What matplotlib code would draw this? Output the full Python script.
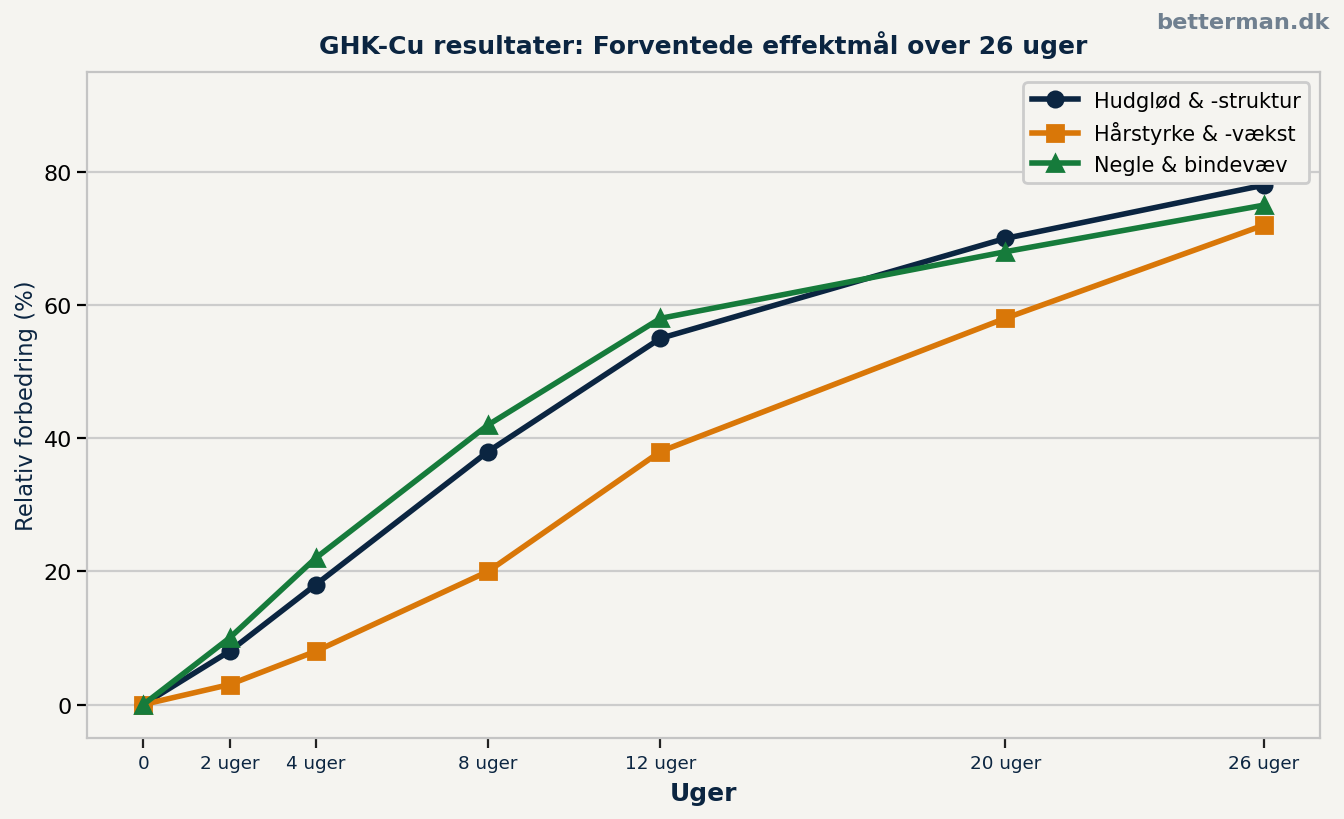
import matplotlib
matplotlib.use('Agg')
import matplotlib.pyplot as plt

BG = '#f5f4f0'
NAVY = '#0b2541'
ORANGE = '#d97708'
GREEN = '#167b3b'

weeks = [0, 2, 4, 8, 12, 20, 26]
week_labels = ['0', '2 uger', '4 uger', '8 uger', '12 uger', '20 uger', '26 uger']
skin = [0, 8, 18, 38, 55, 70, 78]
hair = [0, 3, 8, 20, 38, 58, 72]
nails = [0, 10, 22, 42, 58, 68, 75]


def main():
    fig, ax = plt.subplots(figsize=(6.72, 4.1), dpi=200)
    fig.patch.set_facecolor(BG)
    ax.set_facecolor(BG)

    ax.plot(weeks, skin, color=NAVY, marker='o', lw=2, ms=5.5, label='Hudglød & -struktur', zorder=3)
    ax.plot(weeks, hair, color=ORANGE, marker='s', lw=2, ms=5.5, label='Hårstyrke & -vækst', zorder=3)
    ax.plot(weeks, nails, color=GREEN, marker='^', lw=2, ms=6, label='Negle & bindevæv', zorder=3)

    ax.set_ylim(-5, 95)
    ax.set_yticks([0, 20, 40, 60, 80])
    ax.set_xticks(weeks)
    ax.set_xticklabels(week_labels, fontsize=6.6, color=NAVY)
    ax.tick_params(axis='y', labelsize=8, colors='black', pad=2)
    ax.tick_params(axis='x', colors='#222222', pad=2.5)
    for lab in ax.get_xticklabels():
        lab.set_color(NAVY)
    ax.grid(axis='y', color='#cccccc', lw=0.8)
    ax.set_axisbelow(True)
    for sp in ax.spines.values():
        sp.set_color('#c4c4c4')

    ax.set_xlabel('Uger', fontsize=9, fontweight='bold', color=NAVY, labelpad=3)
    ax.set_ylabel('Relativ forbedring (%)', fontsize=8.2, color=NAVY, labelpad=2.2)
    ax.set_title('GHK-Cu resultater: Forventede effektmål over 26 uger',
                 fontsize=9, fontweight='bold', color=NAVY, pad=7)

    leg = ax.legend(loc='upper right', fontsize=7.5, facecolor=BG, edgecolor='#cccccc',
                    handlelength=2.2)
    leg.get_frame().set_alpha(1)

    fig.text(0.989, 0.984, 'betterman.dk', ha='right', va='top', fontsize=8.1,
             fontweight='bold', color='#708090')

    fig.subplots_adjust(left=0.065, right=0.982, top=0.911, bottom=0.099)
    fig.savefig('out.png', dpi=200, facecolor=BG)


if __name__ == '__main__':
    main()
